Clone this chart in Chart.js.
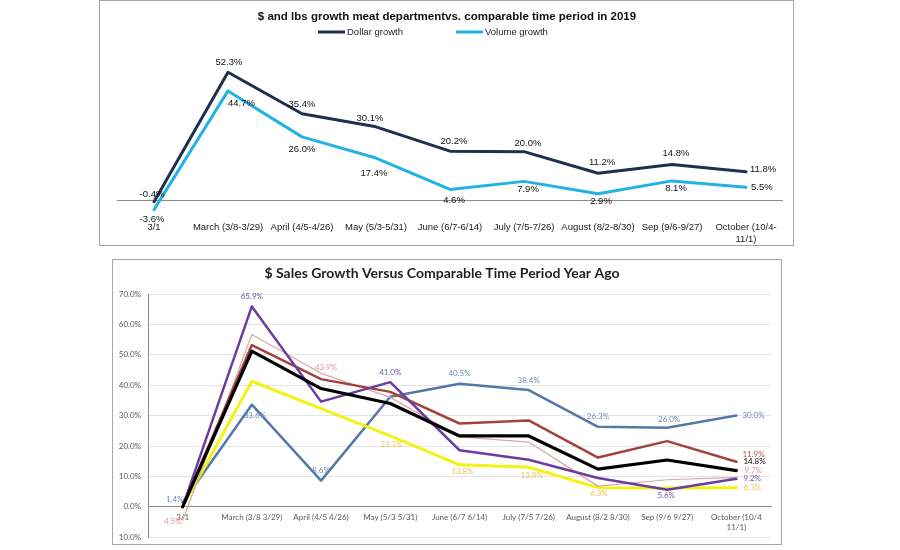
<!DOCTYPE html>
<html>
<head>
<meta charset="utf-8">
<script src="https://cdn.jsdelivr.net/npm/chart.js@4.4.1/dist/chart.umd.min.js"></script>
<style>
    html, body { margin: 0; padding: 0; background: #fff; }
    body { width: 900px; height: 550px; position: relative; overflow: hidden; }
    .box { position: absolute; border: 1px solid #a6a6a6; background: #fff; }
    #topBox { left: 99px; top: 0; width: 693px; height: 244px; }
    #salesBox { left: 112px; top: 259px; width: 668px; height: 284px; }
    canvas { display: block; }
</style>
</head>
<body>
<div class="box" id="topBox"><canvas id="meatChart" width="693" height="244"></canvas></div>
<div class="box" id="salesBox"><canvas id="salesChart" width="668" height="289"></canvas></div>

<script>
// Top chart data
const meatPeriods = ["3/1", "March (3/8-3/29)", "April (4/5-4/26)", "May (5/3-5/31)", "June (6/7-6/14)",
    "July (7/5-7/26)", "August (8/2-8/30)", "Sep (9/6-9/27)", ["October (10/4-", "11/1)"]];
const dollarGrowth = [-0.4, 52.3, 35.4, 30.1, 20.2, 20.0, 11.2, 14.8, 11.8];
const volumeGrowth = [-3.6, 44.7, 26.0, 17.4, 4.6, 7.9, 2.9, 8.1, 5.5];

// Bottom chart data
const salesPeriods = ["3/1", "March (3/8 3/29)", "April (4/5 4/26)", "May (5/3 5/31)", "June (6/7 6/14)",
    "July (7/5 7/26)", "August (8/2 8/30)", "Sep (9/6 9/27)", ["October (10/4", "11/1)"]];
const blackSeries  = [0, 51.2, 38.9, 34.0, 23.3, 23.3, 12.4, 15.4, 11.9];
const purpleSeries = [0, 65.9, 34.6, 41.0, 18.6, 15.5, 9.5, 5.6, 9.2];
const redSeries    = [0, 53.2, 42.0, 37.8, 27.4, 28.4, 16.2, 21.6, 14.8];
const pinkSeries   = [-4.5, 56.7, 43.9, 36.0, 23.0, 21.3, 6.8, 8.9, 9.7];
const yellowSeries = [0, 41.3, 32.3, 23.3, 13.8, 13.0, 6.3, 6.2, 6.3];
const steelSeries  = [1.4, 33.6, 8.6, 36.2, 40.5, 38.4, 26.3, 26.0, 30.0];
const salesTicks = [-10, 0, 10, 20, 30, 40, 50, 60, 70];

// Where each data label sits relative to its point: [dx, dy, align]
const dollarLabelPlace = [[-2, -7, "center"], [1, -10, "center"], [0, -9, "center"], [-6, -8, "center"],
    [4, -10, "center"], [4, -8, "center"], [4, -11, "center"], [4, -11, "center"], [4, -2, "left"]];
const volumeLabelPlace = [[-2, 10, "center"], [0, 12, "left"], [0, 12, "center"], [-2, 15, "center"],
    [4, 11, "center"], [4, 8, "center"], [3, 8, "center"], [4, 7, "center"], [5, 0, "left"]];

const steelLabelPlace  = [[1, -3, "right"], [3, 11, "center"], [0, -10, "center"], null, [0, -10, "center"],
    [0, -10, "center"], [0, -10, "center"], [2, -8, "center"], [6, 0, "left"]];
const purpleLabelPlace = [null, [0, -10, "center"], null, [0, -10, "center"], null, null, null, [-1, 6, "center"], [7, 0, "left"]];
const yellowLabelPlace = [null, null, null, [1, 8, "center"], [3, 7, "center"], [3, 8, "center"], [1, 6, "center"], null, [7, 0, "left"]];
const pinkLabelPlace   = [[-1, 1, "right"], null, [5, -6, "center"], null, null, null, null, null, [8, -7, "left"]];
const blackLabelPlace  = [null, null, null, null, null, null, null, null, [6, -16, "left"]];
const redLabelPlace    = [null, null, null, null, null, null, null, null, [7, 0, "left"]];

// Draws value labels next to points
const pointLabels = {
    id: "pointLabels",
    afterDatasetsDraw(chart, args, opts) {
        const ctx = chart.ctx;
        ctx.save();
        ctx.font = opts.font;
        ctx.textBaseline = "middle";
        chart.data.datasets.forEach((ds, i) => {
            if (!ds.labelPlace) return;
            const meta = chart.getDatasetMeta(i);
            meta.data.forEach((pt, j) => {
                const place = ds.labelPlace[j];
                if (!place) return;
                ctx.fillStyle = ds.labelColor;
                ctx.textAlign = place[2];
                ctx.fillText(opts.format(ds.data[j]), pt.x + place[0], pt.y + place[1]);
            });
        });
        ctx.restore();
    }
};

// Excel style legend: short line then text
const lineLegend = {
    id: "lineLegend",
    afterDraw(chart, args, opts) {
        if (!opts.items) return;
        const ctx = chart.ctx;
        ctx.save();
        ctx.font = opts.font;
        ctx.textBaseline = "middle";
        ctx.textAlign = "left";
        chart.data.datasets.forEach((ds, i) => {
            const x = opts.items[i];
            ctx.strokeStyle = ds.borderColor;
            ctx.lineWidth = ds.borderWidth;
            ctx.beginPath();
            ctx.moveTo(x, opts.y);
            ctx.lineTo(x + opts.lineLength, opts.y);
            ctx.stroke();
            ctx.fillStyle = opts.color;
            ctx.fillText(ds.label, x + opts.lineLength + 2, opts.y);
        });
        ctx.restore();
    }
};

const arial = "'Liberation Sans', Arial, sans-serif";
const calibriLike = "Lato, 'Open Sans', sans-serif";

new Chart(document.getElementById("meatChart"), {
    type: "line",
    data: {
        labels: meatPeriods,
        datasets: [
            {
                label: "Dollar growth",
                data: dollarGrowth,
                borderColor: "#1f2f4f",
                borderWidth: 3,
                labelColor: "#111",
                labelPlace: dollarLabelPlace
            },
            {
                label: "Volume growth",
                data: volumeGrowth,
                borderColor: "#22b2e4",
                borderWidth: 3,
                labelColor: "#111",
                labelPlace: volumeLabelPlace
            }
        ]
    },
    options: {
        responsive: false,
        animation: false,
        layout: { padding: { left: 11, right: 10, top: 0, bottom: 1 } },
        elements: {
            point: { radius: 0 },
            line: { tension: 0, borderJoinStyle: "round", borderCapStyle: "round" }
        },
        plugins: {
            legend: { display: false },
            tooltip: { enabled: false },
            title: {
                display: true,
                text: "$ and lbs growth meat departmentvs. comparable time period in 2019",
                color: "#111",
                font: { family: arial, size: 11.5, weight: "bold" },
                padding: { top: 9.2, bottom: 29.3 }
            },
            lineLegend: { items: [218, 356], y: 31, lineLength: 27, font: "9.5px " + arial, color: "#222" },
            pointLabels: { font: "9.5px " + arial, format: v => v.toFixed(1) + "%" }
        },
        scales: {
            x: {
                offset: true,
                grid: { display: false, drawTicks: false },
                border: { display: false },
                ticks: { color: "#222", font: { family: arial, size: 9.5 }, padding: 4, autoSkip: false, maxRotation: 0 },
                afterFit: scale => { scale.height = 26; }
            },
            y: {
                min: -7,
                max: 60,
                ticks: { display: false, stepSize: 10 },
                border: { display: false },
                grid: {
                    drawTicks: false,
                    color: c => c.tick.value === 0 ? "#8c8c8c" : "rgba(0,0,0,0)"
                },
                afterFit: scale => { scale.width = 6; }
            }
        }
    },
    plugins: [pointLabels, lineLegend]
});

new Chart(document.getElementById("salesChart"), {
    type: "line",
    data: {
        labels: salesPeriods,
        datasets: [
            { label: "Total", data: blackSeries, borderColor: "#000", borderWidth: 3.2, labelColor: "#c0504d", labelPlace: blackLabelPlace },
            { label: "Purple", data: purpleSeries, borderColor: "#6a3d9e", borderWidth: 2.5, labelColor: "#6e5aa0", labelPlace: purpleLabelPlace },
            { label: "Red", data: redSeries, borderColor: "#a4423f", borderWidth: 2.5, labelColor: "#000", labelPlace: redLabelPlace },
            { label: "Pink", data: pinkSeries, borderColor: "#d9a7a4", borderWidth: 1.2, labelColor: "#d9989a", labelPlace: pinkLabelPlace },
            { label: "Yellow", data: yellowSeries, borderColor: "#f4f212", borderWidth: 3, labelColor: "#e5c35b", labelPlace: yellowLabelPlace },
            { label: "Blue", data: steelSeries, borderColor: "#5479a8", borderWidth: 2.5, labelColor: "#6f87b9", labelPlace: steelLabelPlace }
        ]
    },
    options: {
        responsive: false,
        animation: false,
        layout: { padding: { left: 0, right: 10, top: 0, bottom: 0 } },
        elements: {
            point: { radius: 0 },
            line: { tension: 0, borderJoinStyle: "round", borderCapStyle: "round" }
        },
        plugins: {
            legend: { display: false },
            tooltip: { enabled: false },
            title: {
                display: true,
                text: "$ Sales Growth Versus Comparable Time Period Year Ago",
                color: "#1f1f1f",
                font: { family: calibriLike, size: 14, weight: "bold" },
                padding: { top: 5, bottom: 12.2 }
            },
            pointLabels: { font: "8px " + calibriLike, format: v => Math.abs(v).toFixed(1) + "%" }
        },
        scales: {
            x: {
                position: { y: 0 },
                offset: true,
                grid: { display: false, drawTicks: false },
                border: { display: true, color: "#8c8c8c" },
                ticks: { color: "#595959", font: { family: calibriLike, size: 8 }, padding: 6, autoSkip: false, maxRotation: 0 },
                afterFit: scale => { scale.height = 0; }
            },
            y: {
                min: salesTicks[0],
                max: salesTicks[salesTicks.length - 1],
                afterBuildTicks: scale => { scale.ticks = salesTicks.map(v => ({ value: v })); },
                ticks: {
                    color: "#595959",
                    font: { family: calibriLike, size: 8 },
                    padding: 7,
                    callback: v => Math.abs(v).toFixed(1) + "%"
                },
                border: { color: "#8c8c8c" },
                grid: {
                    drawTicks: false,
                    color: c => c.tick.value === 0 ? "#8c8c8c" : "#e4e4e4"
                },
                afterFit: scale => { scale.width = 35; }
            }
        }
    },
    plugins: [pointLabels]
});
</script>
</body>
</html>
